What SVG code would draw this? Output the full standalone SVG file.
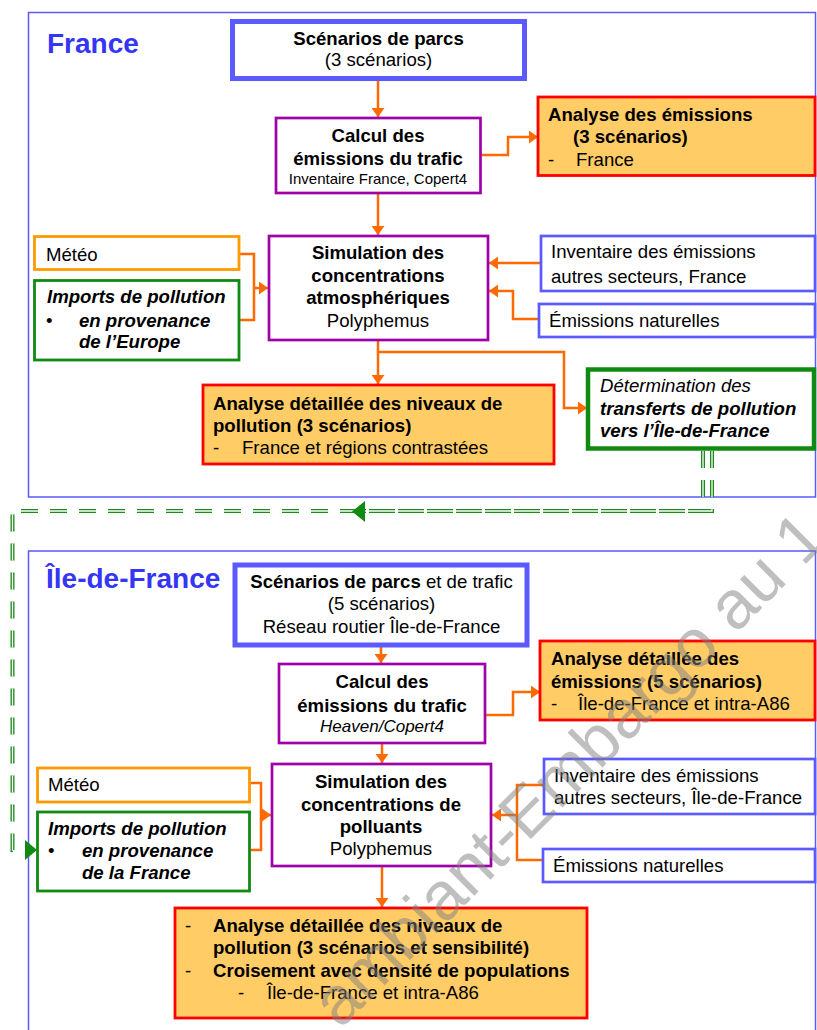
<svg xmlns="http://www.w3.org/2000/svg" width="817" height="1030" viewBox="0 0 817 1030">
<defs>
<style>
text{font-family:"Liberation Sans",Arial,sans-serif;font-size:18.6px;fill:#000}
.b{font-weight:bold}
.i{font-style:italic}
.bi{font-weight:bold;font-style:italic}
.c{text-anchor:middle}
.sm{font-size:15px}
.title{font-size:28px;font-weight:bold;fill:#3535f5}
.frame{fill:none;stroke:#5a5aff;stroke-width:1.5}
.blue5{fill:#fff;stroke:#5a5aff;stroke-width:5}
.blue3{fill:#fff;stroke:#5a5aff;stroke-width:2.7}
.purple{fill:#fff;stroke:#a000a8;stroke-width:2.7}
.orange{fill:#fff;stroke:#ff9a00;stroke-width:2.8}
.green{fill:#fff;stroke:#118a11;stroke-width:2.8}
.green5{fill:#fff;stroke:#118a11;stroke-width:4.5}
.ana{fill:#ffcc66;stroke:#ff0000;stroke-width:2.8}
.oc{fill:none;stroke:#ff6a00;stroke-width:2.5}
.gd{fill:none;stroke:#1a8c1a;stroke-width:4;stroke-dasharray:17 12}
.gw{fill:none;stroke:#fff;stroke-width:1.3;stroke-dasharray:17 12}
.wm{font-size:68px;fill:#808080;opacity:0.5}
</style>
<marker id="ao" viewBox="0 0 9 13" refX="9" refY="6.5" markerWidth="9" markerHeight="13" markerUnits="userSpaceOnUse" orient="auto">
<path d="M0,0 L9,6.5 L0,13z" fill="#ff6a00"/>
</marker>
<marker id="ag" viewBox="0 0 13 20" refX="13" refY="10" markerWidth="13" markerHeight="20" markerUnits="userSpaceOnUse" orient="auto">
<path d="M0,0 L13,10 L0,20z" fill="#118a11"/>
</marker>
</defs>

<g id="frame-france">
<rect x="28.5" y="12.5" width="787" height="484.5" class="frame"/>
<text x="47" y="53" class="title">France</text>
</g>
<g id="frame-idf">
<rect x="28.5" y="551" width="787" height="500" class="frame"/>
<text x="46" y="588" class="title">Île-de-France</text>
</g>

<g id="connectors">
<path class="oc" d="M378 81 V117" marker-end="url(#ao)"/>
<path class="oc" d="M481 155 H508 V137 H538" marker-end="url(#ao)"/>
<path class="oc" d="M378 193 V235" marker-end="url(#ao)"/>
<path class="oc" d="M239 254 H254 V320 H239"/>
<path class="oc" d="M254 288 H268" marker-end="url(#ao)"/>
<path class="oc" d="M540 263 H489" marker-end="url(#ao)"/>
<path class="oc" d="M538 319 H513 V291 H489" marker-end="url(#ao)"/>
<path class="oc" d="M378 340 V384" marker-end="url(#ao)"/>
<path class="oc" d="M378 352 H564 V408 H587" marker-end="url(#ao)"/>
<path class="oc" d="M381 645 V663" marker-end="url(#ao)"/>
<path class="oc" d="M486 715 H513 V692 H540" marker-end="url(#ao)"/>
<path class="oc" d="M382 744 V763" marker-end="url(#ao)"/>
<path class="oc" d="M250 783 H261 V850 H250"/>
<path class="oc" d="M261 815 H271" marker-end="url(#ao)"/>
<path class="oc" d="M543 785 H517 V860 H542"/>
<path class="oc" d="M517 815 H492" marker-end="url(#ao)"/>
<path class="oc" d="M382 867 V907" marker-end="url(#ao)"/>
<path class="gd" d="M703 451 V511 H12.5 V850 H22"/>
<path class="gw" d="M703 451 V511 H12.5 V850 H22"/>
<path class="gd" d="M712 451 V511 H365"/>
<path class="gw" d="M712 451 V511 H365"/>
<path d="M365 501 L352 511.5 L365 522z" fill="#118a11"/>
<path d="M25 840 L37 850 L25 860z" fill="#118a11"/>
</g>

<g id="scenarios-fr">
<rect x="232.5" y="21.5" width="292" height="57" class="blue5"/>
<text x="378.5" y="45" class="b c">Scénarios de parcs</text>
<text x="378.5" y="66" class="c">(3 scénarios)</text>
</g>
<g id="calcul-fr">
<rect x="276" y="118" width="204.5" height="75" class="purple"/>
<text x="378" y="142" class="b c">Calcul des</text>
<text x="378" y="165" class="b c">émissions du trafic</text>
<text x="378" y="184" class="c sm">Inventaire France, Copert4</text>
</g>
<g id="analyse-emissions-fr">
<rect x="538" y="97" width="277" height="78.5" class="ana"/>
<text x="548" y="121" class="b">Analyse des émissions</text>
<text x="573" y="143" class="b">(3 scénarios)</text>
<text x="548" y="166">-</text>
<text x="576" y="166">France</text>
</g>
<g id="meteo-fr">
<rect x="34.5" y="236.5" width="204.5" height="33" class="orange"/>
<text x="46" y="261">Météo</text>
</g>
<g id="imports-fr">
<rect x="34.5" y="280.5" width="204.5" height="79.5" class="green"/>
<text x="47" y="303" class="bi">Imports de pollution</text>
<text x="46" y="327">•</text>
<text x="79" y="327" class="bi">en provenance</text>
<text x="79" y="348" class="bi">de l’Europe</text>
</g>
<g id="simulation-fr">
<rect x="269" y="236" width="219" height="104" class="purple"/>
<text x="378" y="259" class="b c">Simulation des</text>
<text x="378" y="282" class="b c">concentrations</text>
<text x="378" y="304" class="b c">atmosphériques</text>
<text x="378" y="327" class="c">Polyphemus</text>
</g>
<g id="inventaire-fr">
<rect x="541" y="236" width="274" height="55" class="blue3"/>
<text x="551" y="258">Inventaire des émissions</text>
<text x="551" y="283">autres secteurs, France</text>
</g>
<g id="naturelles-fr">
<rect x="539" y="304" width="276" height="33" class="blue3"/>
<text x="549" y="327">Émissions naturelles</text>
</g>
<g id="analyse-niveaux-fr">
<rect x="203" y="385" width="351" height="79" class="ana"/>
<text x="213" y="410" class="b">Analyse détaillée des niveaux de</text>
<text x="213" y="432" class="b">pollution (3 scénarios)</text>
<text x="213" y="454">-</text>
<text x="242" y="454">France et régions contrastées</text>
</g>
<g id="transferts">
<rect x="588" y="369.5" width="226" height="79" class="green5"/>
<text x="600" y="392" class="i">Détermination des</text>
<text x="600" y="415" class="bi">transferts de pollution</text>
<text x="600" y="437" class="bi">vers l’Île-de-France</text>
</g>

<g id="scenarios-idf">
<rect x="235" y="565" width="292" height="80" class="blue5"/>
<text x="381.5" y="588" class="c"><tspan class="b">Scénarios de parcs</tspan> et de trafic</text>
<text x="381.5" y="610" class="c">(5 scénarios)</text>
<text x="381.5" y="633" class="c">Réseau routier Île-de-France</text>
</g>
<g id="calcul-idf">
<rect x="279" y="664" width="206" height="79" class="purple"/>
<text x="382" y="688" class="b c">Calcul des</text>
<text x="382" y="712" class="b c">émissions du trafic</text>
<text x="382" y="732" class="i c" style="font-size:17px">Heaven/Copert4</text>
</g>
<g id="analyse-emissions-idf">
<rect x="540" y="641" width="275" height="79" class="ana"/>
<text x="551" y="665" class="b">Analyse détaillée des</text>
<text x="551" y="688" class="b">émissions (5 scénarios)</text>
<text x="551" y="710">-</text>
<text x="578" y="710">Île-de-France et intra-A86</text>
</g>
<g id="meteo-idf">
<rect x="37.5" y="768" width="212" height="34" class="orange"/>
<text x="48" y="791">Météo</text>
</g>
<g id="imports-idf">
<rect x="37.5" y="812" width="212" height="79" class="green"/>
<text x="48" y="835" class="bi">Imports de pollution</text>
<text x="48" y="857">•</text>
<text x="82" y="857" class="bi">en provenance</text>
<text x="82" y="879" class="bi">de la France</text>
</g>
<g id="simulation-idf">
<rect x="272" y="764" width="219" height="102" class="purple"/>
<text x="381" y="788" class="b c">Simulation des</text>
<text x="381" y="811" class="b c">concentrations de</text>
<text x="381" y="833" class="b c">polluants</text>
<text x="381" y="855" class="c">Polyphemus</text>
</g>
<g id="inventaire-idf">
<rect x="544" y="759" width="271" height="55" class="blue3"/>
<text x="554" y="782">Inventaire des émissions</text>
<text x="554" y="804">autres secteurs, Île-de-France</text>
</g>
<g id="naturelles-idf">
<rect x="543" y="849" width="272" height="33" class="blue3"/>
<text x="553" y="872">Émissions naturelles</text>
</g>
<g id="analyse-niveaux-idf">
<rect x="175" y="908" width="412" height="110" class="ana"/>
<text x="185" y="932">-</text>
<text x="213" y="932" class="b">Analyse détaillée des niveaux de</text>
<text x="213" y="954" class="b">pollution (3 scénarios et sensibilité)</text>
<text x="185" y="977">-</text>
<text x="213" y="977" class="b">Croisement avec densité de populations</text>
<text x="238" y="999">-</text>
<text x="267" y="999">Île-de-France et intra-A86</text>
</g>

<text class="wm" transform="translate(340,1030) rotate(-45)">ambiant-Embargo au 1</text>
</svg>
